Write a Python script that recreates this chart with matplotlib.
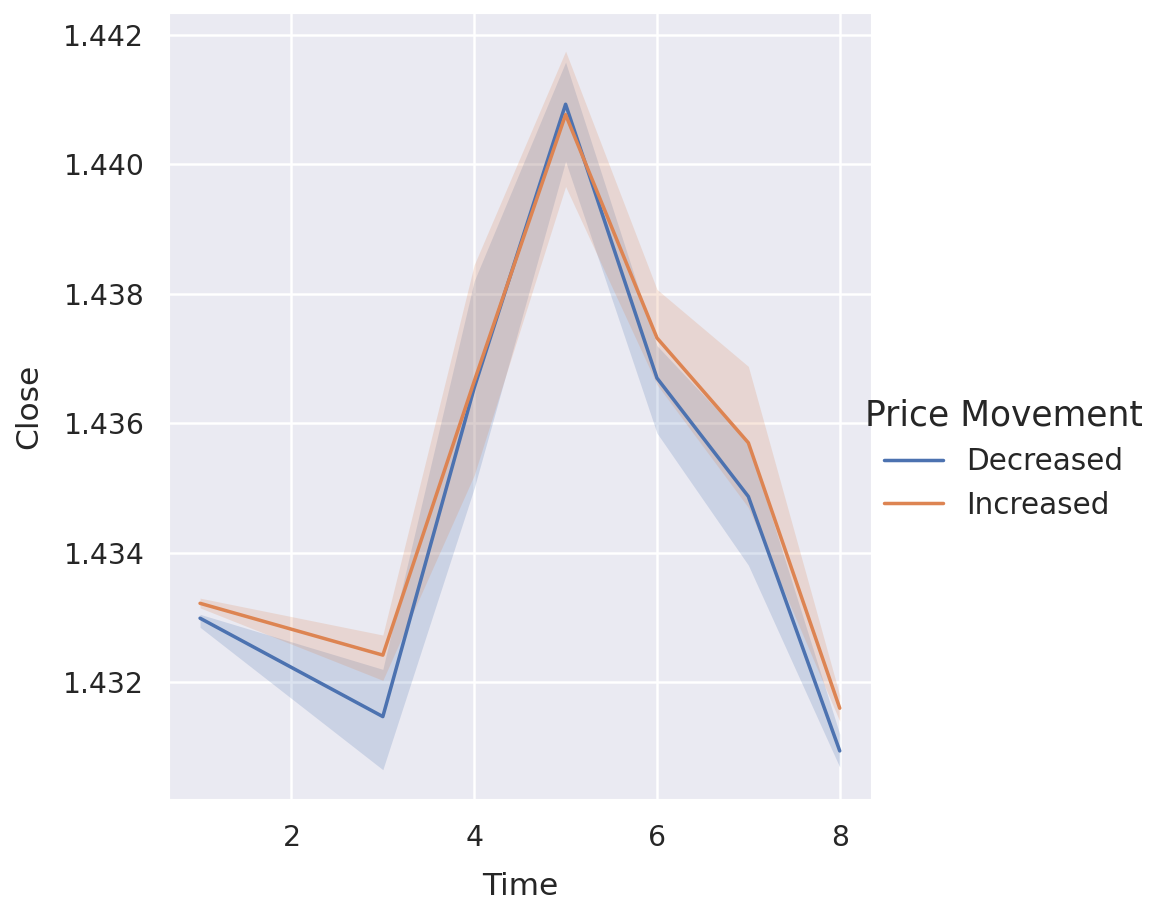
import numpy as np
import matplotlib
matplotlib.use("Agg")
import matplotlib.pyplot as plt
import seaborn as sns

# mean close per time step with the 95% CI band, split by price movement
time = [1, 3, 4, 5, 6, 7, 8]

dec_mean = [1.43299, 1.43147, 1.43655, 1.44093, 1.43670, 1.43487, 1.43094]
dec_low = [1.43285, 1.43065, 1.43500, 1.44005, 1.43585, 1.43381, 1.43069]
dec_high = [1.43305, 1.43220, 1.43820, 1.44158, 1.43720, 1.43570, 1.43120]

inc_mean = [1.43322, 1.43242, 1.43665, 1.44077, 1.43732, 1.43570, 1.43160]
inc_low = [1.43315, 1.43203, 1.43520, 1.43966, 1.43660, 1.43470, 1.43140]
inc_high = [1.43330, 1.43273, 1.43845, 1.44175, 1.43807, 1.43688, 1.43180]

groups = ["Decreased", "Increased"]

sns.set_theme()
colors = sns.color_palette("deep")

fig = plt.figure(figsize=(6.44, 5.0), dpi=180)
ax = fig.add_axes([0.145, 0.111, 0.607, 0.876])

series = [(dec_mean, dec_low, dec_high), (inc_mean, inc_low, inc_high)]
for (mean, low, high), name, c in zip(series, groups, colors):
    ax.fill_between(time, low, high, color=c, alpha=0.2, linewidth=0)
    ax.plot(time, mean, color=c, lw=1.4, label=name)

ax.set_xlim(0.65, 8.35)
ax.set_ylim(1.43018, 1.44236)
ax.set_xticks([2, 4, 6, 8])
ax.set_yticks([1.432, 1.434, 1.436, 1.438, 1.440, 1.442])
ax.ticklabel_format(axis="y", useOffset=False)
ax.tick_params(labelsize=11.3)
ax.set_xlabel("Time", fontsize=12.5, labelpad=8)
ax.set_ylabel("Close", fontsize=12.5, labelpad=8)

handles, labels = ax.get_legend_handles_labels()
fig.legend(handles, labels, title="Price Movement", loc="center left",
           bbox_to_anchor=(0.723, 0.49), frameon=False,
           fontsize=11.8, title_fontsize=13.8)

fig.savefig("out.png", dpi=180)
